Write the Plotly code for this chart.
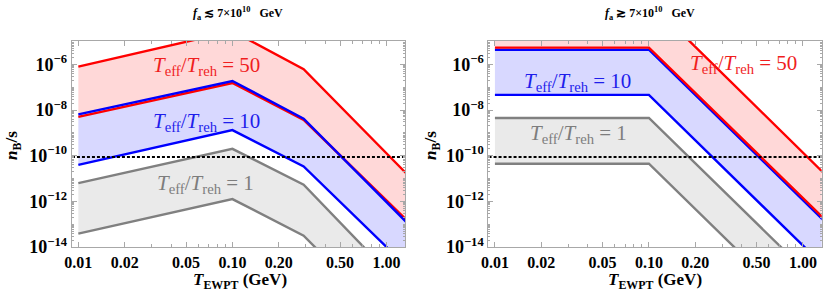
import plotly.graph_objects as go

# ---------------- data (log10 of n_B/s) ----------------
# Left panel: f_a <~ 7e10 GeV
L_x = [0.01, 0.1, 0.29, 1.35]
L_red_up  = [-6.10, -4.55, -6.21, -10.79]
L_red_lo  = [-8.30, -6.82, -8.43, -12.82]
L_blue_up = [-8.19, -6.73, -8.38, -12.92]
L_blue_lo = [-10.40, -8.88, -10.47, -14.85]
L_gray_up = [-11.20, -9.70, -11.27, -15.95]
L_gray_lo = [-13.41, -11.90, -13.50, -18.05]

# Right panel: f_a >~ 7e10 GeV
R_x = [0.01, 0.1, 1.35]
R_red_up  = [-3.24, -3.24, -10.73]
R_red_lo  = [-5.27, -5.27, -12.71]
R_blue_up = [-5.36, -5.36, -12.80]
R_blue_lo = [-7.34, -7.34, -14.79]
R_gray_up = [-8.35, -8.35, -15.80]
R_gray_lo = [-10.35, -10.35, -17.80]

obs_log = -10.06   # observed n_B/s ~ 8.7e-11
x_ticks = [0.01, 0.02, 0.05, 0.1, 0.2, 0.5, 1.0]
x_ticktext = ["0.01", "0.02", "0.05", "0.10", "0.20", "0.50", "1.00"]
y_ticks_exp = [-6, -8, -10, -12, -14]

# ---------------- styles ----------------
RED, BLUE, GRAY = "#ff0000", "#0000ff", "#808080"
FILL_RED, FILL_BLUE, FILL_GRAY = "rgb(255,216,216)", "rgb(216,216,255)", "rgb(234,234,234)"
TXT_RED, TXT_BLUE, TXT_GRAY = "rgb(240,30,30)", "rgb(30,30,235)", "rgb(125,125,125)"
SERIF = "'Liberation Serif', 'DejaVu Serif', serif"
FRAME = "#a8a8a8"

fig = go.Figure()

def p10(v):
    return [10 ** a for a in v]

def band(x, up, lo, color, xa, ya):
    xs = list(x) + list(x)[::-1]
    ys = p10(up) + p10(lo)[::-1]
    fig.add_trace(go.Scatter(x=xs, y=ys, fill="toself", fillcolor=color, mode="none",
                             hoverinfo="skip", showlegend=False, xaxis=xa, yaxis=ya))

def line(x, v, color, xa, ya, w=2.4):
    fig.add_trace(go.Scatter(x=x, y=p10(v), mode="lines", line=dict(color=color, width=w),
                             showlegend=False, xaxis=xa, yaxis=ya))

for (x, ru, rl, bu, bl, gu, gl, xa, ya) in [
    (L_x, L_red_up, L_red_lo, L_blue_up, L_blue_lo, L_gray_up, L_gray_lo, "x", "y"),
    (R_x, R_red_up, R_red_lo, R_blue_up, R_blue_lo, R_gray_up, R_gray_lo, "x2", "y2"),
]:
    band(x, ru, rl, FILL_RED, xa, ya)
    band(x, bu, bl, FILL_BLUE, xa, ya)
    band(x, gu, gl, FILL_GRAY, xa, ya)
    line(x, gu, GRAY, xa, ya)
    line(x, gl, GRAY, xa, ya)
    line(x, bl, BLUE, xa, ya)
    line(x, ru, RED, xa, ya)
    if xa == "x":
        line(x, rl, RED, xa, ya)
        line(x, bu, BLUE, xa, ya)
    else:
        line(x, bu, BLUE, xa, ya)
        line(x, rl, RED, xa, ya)
    fig.add_trace(go.Scatter(x=[0.005, 2.0], y=[10 ** obs_log] * 2, mode="lines",
                             line=dict(color="black", width=2, dash="3px,2px"),
                             showlegend=False, xaxis=xa, yaxis=ya))

W, H = 829, 299
xdom_L = [71.7 / W, 405.3 / W]
xdom_R = [488.3 / W, 821.7 / W]
ydom = [1 - 247.3 / H, 1 - 41 / H]

x_minor = [k * 10 ** e for e in (-2, -1, 0) for k in range(2, 10)]
y_minor = [k * 10 ** e for e in range(-15, -3) for k in range(1, 10)]

xcommon = dict(type="log", range=[-2.043, 0.122], tickvals=x_ticks,
               ticktext=["<b>%s</b>" % t for t in x_ticktext], automargin=False,
               ticks="inside", ticklen=5, tickcolor=FRAME, showline=True, linecolor=FRAME,
               linewidth=1, mirror="ticks", showgrid=False, zeroline=False,
               tickfont=dict(family=SERIF, size=16, color="black"),
               minor=dict(tickmode="array", tickvals=x_minor, ticks="inside", ticklen=3,
                          tickcolor=FRAME, showgrid=False))
ycommon = dict(type="log", range=[-14.01, -4.98], tickvals=[10 ** e for e in y_ticks_exp],
               ticktext=["<b>10</b><sup><b>\u2212%d</b></sup>" % (-e) for e in y_ticks_exp],
               automargin=False,
               ticks="inside", ticklen=5, tickcolor=FRAME, showline=True, linecolor=FRAME,
               linewidth=1, mirror="ticks", showgrid=False, zeroline=False,
               tickfont=dict(family=SERIF, size=18, color="black"),
               minor=dict(tickmode="array", tickvals=y_minor, ticks="inside", ticklen=2,
                          tickcolor=FRAME, showgrid=False))

fig.update_layout(
    width=W, height=H, margin=dict(l=0, r=0, t=0, b=0, autoexpand=False),
    paper_bgcolor="white", plot_bgcolor="white",
    xaxis=dict(domain=xdom_L, anchor="y", **xcommon),
    yaxis=dict(domain=ydom, anchor="x", **ycommon),
    xaxis2=dict(domain=xdom_R, anchor="y2", **xcommon),
    yaxis2=dict(domain=ydom, anchor="x2", **ycommon),
)

ann = []
def txt(x, y, s, color, size, **kw):
    ann.append(dict(x=x / W, y=1 - y / H, xref="paper", yref="paper", text=s, showarrow=False,
                    xanchor="center", yanchor="middle",
                    font=dict(family=SERIF, size=size, color=color), **kw))

lab = "<i>T</i><sub>eff</sub>/<i>T</i><sub>reh</sub> = %s"
txt(206, 66, lab % "50", TXT_RED, 21)
txt(206, 122, lab % "10", TXT_BLUE, 21)
txt(205, 184, lab % "1", TXT_GRAY, 21)
txt(743, 64, lab % "50", TXT_RED, 21)
txt(577, 82, lab % "10", TXT_BLUE, 21)
txt(578, 134, lab % "1", TXT_GRAY, 21)

txt(238, 14, "<b><i>f</i><sub>a</sub> \u2272 7\u00d710<sup>10</sup>   GeV</b>", "black", 12)
txt(650, 14, "<b><i>f</i><sub>a</sub> \u2273 7\u00d710<sup>10</sup>   GeV</b>", "black", 12)

txt(240, 281, "<b><i>T</i><sub>EWPT</sub> (GeV)</b>", "black", 17)
txt(655, 281, "<b><i>T</i><sub>EWPT</sub> (GeV)</b>", "black", 17)
txt(13, 146, "<b><i>n</i><sub>B</sub>/s</b>", "black", 17, textangle=-90)
txt(432, 146, "<b><i>n</i><sub>B</sub>/s</b>", "black", 17, textangle=-90)

fig.update_layout(annotations=ann)
fig.write_html("out.html", config={"displayModeBar": False},
               post_script="document.body.style.margin='0px';document.body.style.overflow='hidden';")
